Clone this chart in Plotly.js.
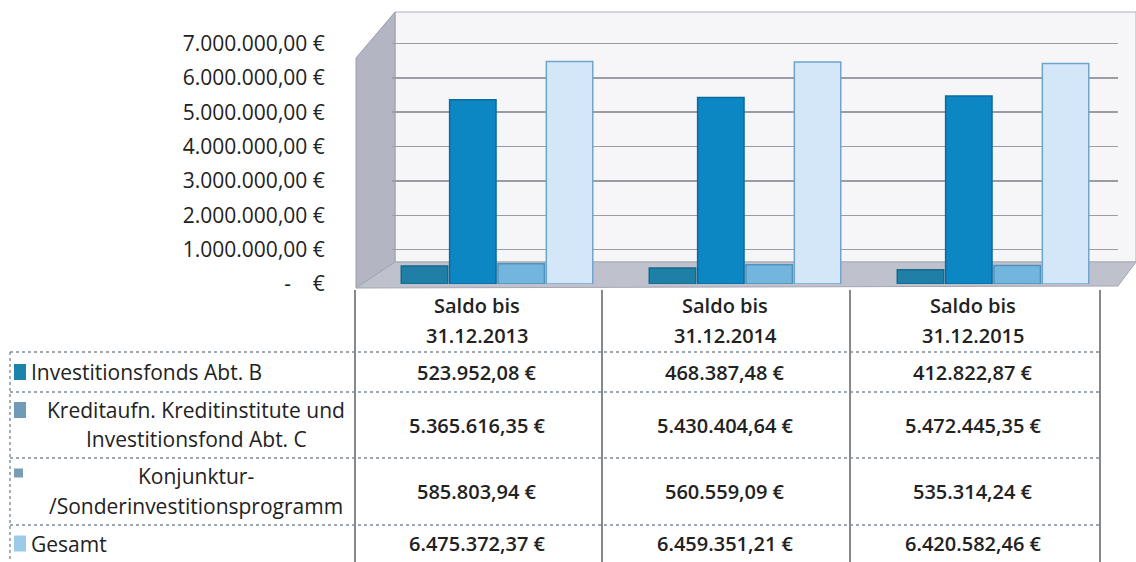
<!DOCTYPE html>
<html><head><meta charset="utf-8">
<script src="https://cdn.plot.ly/plotly-3.0.1.min.js"></script>
<style>html,body{margin:0;padding:0;background:#fff}#chart{width:1136px;height:562px}</style>
</head><body><div id="chart"></div>
<script>
// ---- data ----
const categories = ['31.12.2013', '31.12.2014', '31.12.2015'];
const headerPrefix = 'Saldo bis';
const seriesNames = ['Investitionsfonds Abt. B', 'Kreditaufn. Kreditinstitute und Investitionsfond Abt. C', 'Konjunktur-/Sonderinvestitionsprogramm', 'Gesamt'];
const seriesLabelLines = [['Investitionsfonds Abt. B'], ['Kreditaufn. Kreditinstitute und', 'Investitionsfond Abt. C'], ['Konjunktur-', '/Sonderinvestitionsprogramm'], ['Gesamt']];
const investitionsfondsB = [523952.08, 468387.48, 412822.87];
const kreditaufnahme = [5365616.35, 5430404.64, 5472445.35];
const konjunktur = [585803.94, 560559.09, 535314.24];
const gesamt = [6475372.37, 6459351.21, 6420582.46];
const tickValues = [0, 1000000, 2000000, 3000000, 4000000, 5000000, 6000000, 7000000];

// ---- styles ----
const barColors = ['#1f7fa6', '#0d86c4', '#72b6de', '#d3e7f8'];
const barLines = ['#176a8c', '#0b6b9d', '#4f93bd', '#6fa5cc'];
const keyColors = ['#1b84aa', '#6e9bb5', '#7a9db6', '#9ccbea'];
const font = "'Open Sans', Lato, 'DejaVu Sans', sans-serif";
const textColor = '#222222';

function fmtEuro(v) {
  if (v === 0) return '-\u00a0\u00a0\u00a0\u00a0€';
  const parts = v.toFixed(2).split('.');
  return parts[0].replace(/\B(?=(\d{3})+(?!\d))/g, '.') + ',' + parts[1] + '\u00a0€';
}

// plot geometry in pixels
const W = 1136, H = 562, L = 392, R = 1118, T = 16, B = 284;
const px = p => (p - L) / (R - L);
const py = p => (B - p) / (B - T);

const allSeries = [investitionsfondsB, kreditaufnahme, konjunktur, gesamt];
const traces = allSeries.map((vals, i) => ({
  type: 'bar', name: seriesNames[i], x: categories, y: vals,
  marker: {color: barColors[i], line: {color: barLines[i], width: 1.5}},
  hoverinfo: 'skip'
}));

const shapes = [];
const annotations = [];
// 3D-look walls (decoration)
shapes.push({type: 'path', xref: 'paper', yref: 'paper', layer: 'below',
  path: `M ${px(395)} ${py(12)} L ${px(1136)} ${py(12)} L ${px(1136)} ${py(262)} L ${px(395)} ${py(262)} Z`,
  fillcolor: '#f6f6f8', line: {color: '#b0b0b8', width: 1}});
shapes.push({type: 'path', xref: 'paper', yref: 'paper', layer: 'below',
  path: `M ${px(356)} ${py(58)} L ${px(395)} ${py(12)} L ${px(395)} ${py(262)} L ${px(356)} ${py(288)} Z`,
  fillcolor: '#b3b6c2', line: {color: '#9a9dab', width: 1}});
shapes.push({type: 'path', xref: 'paper', yref: 'paper', layer: 'below',
  path: `M ${px(356)} ${py(288)} L ${px(395)} ${py(262)} L ${px(1136)} ${py(262)} L ${px(1118)} ${py(286)} Z`,
  fillcolor: '#bfc2cd', line: {color: '#a3a6b3', width: 1}});

// table lines
const colX = [355, 602, 850, 1100];
const rowY = [352, 392, 458, 525, 562];
colX.forEach(x => shapes.push({type: 'line', xref: 'paper', yref: 'paper',
  x0: px(x), x1: px(x), y0: py(290), y1: py(562), line: {color: '#3a3a3a', width: 1.2}}));
shapes.push({type: 'line', xref: 'paper', yref: 'paper', x0: px(10), x1: px(10), y0: py(352), y1: py(562),
  line: {color: '#6a7a88', width: 1.2, dash: 'dot'}});
rowY.slice(0, 4).forEach(y => shapes.push({type: 'line', xref: 'paper', yref: 'paper',
  x0: px(10), x1: px(1100), y0: py(y), y1: py(y), line: {color: '#7d8e9c', width: 1.4, dash: 'dot'}}));

// header (category) labels
categories.forEach((c, j) => {
  annotations.push({xref: 'x', yref: 'paper', x: c, y: py(305), xshift: -20, text: headerPrefix,
    showarrow: false, font: {family: font, size: 20, color: textColor, weight: 600}, yanchor: 'middle'});
  annotations.push({xref: 'x', yref: 'paper', x: c, y: py(335), xshift: -20, text: c,
    showarrow: false, font: {family: font, size: 20, color: textColor, weight: 600}, yanchor: 'middle'});
});

// table rows
allSeries.forEach((vals, i) => {
  const mid = (rowY[i] + rowY[i + 1]) / 2;
  const lines = seriesLabelLines[i];
  if (lines.length === 1) {
    annotations.push({xref: 'paper', yref: 'paper', x: px(29), y: py(mid), xanchor: 'left', yanchor: 'middle',
      text: lines[0], showarrow: false, font: {family: font, size: 21, color: textColor}});
  } else {
    lines.forEach((t, k) => annotations.push({xref: 'paper', yref: 'paper', x: px(196), y: py(mid + (k === 0 ? -15 : 14)),
      xanchor: 'center', yanchor: 'middle', text: t, showarrow: false, font: {family: font, size: 21, color: textColor}}));
  }
  const keyTop = lines.length === 1 ? mid - 8 : mid - 23;
  const kw = i === 2 ? 9 : 12, kh = i === 2 ? 9 : 16;
  shapes.push({type: 'rect', xref: 'paper', yref: 'paper', x0: px(14), x1: px(14 + kw), y0: py(keyTop), y1: py(keyTop + kh),
    fillcolor: keyColors[i], line: {width: 0}});
  vals.forEach((v, j) => annotations.push({xref: 'x', yref: 'paper', x: categories[j], xshift: -20, y: py(mid),
    yanchor: 'middle', text: fmtEuro(v), showarrow: false, font: {family: font, size: 20, color: textColor, weight: 600}}));
});

const layout = {
  width: W, height: H, paper_bgcolor: '#ffffff', plot_bgcolor: 'rgba(0,0,0,0)',
  margin: {l: L, r: W - R, t: T, b: H - B},
  showlegend: false, barmode: 'group', bargap: 0.22, bargroupgap: 0.04,
  xaxis: {type: 'category', range: [(L - 497) / 248, (R - 497) / 248], showticklabels: false,
    showgrid: false, zeroline: false, showline: false, ticks: ''},
  yaxis: {range: [0, 7800000], tickvals: tickValues, ticktext: tickValues.map(fmtEuro),
    showgrid: true, gridcolor: '#9c9ca4', gridwidth: 1.5, zeroline: false, showline: false,
    ticks: 'outside', ticklen: 62, tickcolor: 'rgba(0,0,0,0)',
    tickfont: {family: font, size: 21, color: textColor}},
  shapes: shapes, annotations: annotations
};
Plotly.newPlot('chart', traces, layout, {displayModeBar: false, staticPlot: true});
</script></body></html>
